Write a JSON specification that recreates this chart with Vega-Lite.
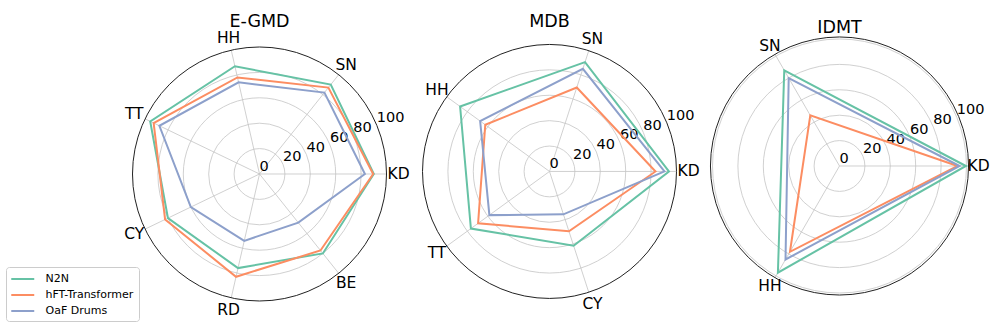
{
  "$schema": "https://vega.github.io/schema/vega-lite/v6.json",
  "autosize": {"type": "pad"},
  "padding": {"left": 5.5, "top": 0, "right": 0, "bottom": 0},
  "bounds": "flush",
  "spacing": 0,
  "config": {
    "view": {"stroke": null},
    "font": "DejaVu Sans",
    "legend": {
      "orient": "none",
      "legendX": -108.5,
      "legendY": 267,
      "title": null,
      "symbolType": "M-2,0H2",
      "symbolSize": 132,
      "symbolStrokeWidth": 2,
      "symbolOffset": 4.75,
      "labelOffset": 15.75,
      "labelFontSize": 11,
      "labelFont": "DejaVu Sans",
      "labelColor": "#000000",
      "rowPadding": 4,
      "padding": 5,
      "strokeColor": "#cccccc",
      "cornerRadius": 3,
      "fillColor": "#ffffff"
    }
  },
  "datasets": {
    "scores": [
      {"panel": "E-GMD", "model": "N2N", "inst": "KD", "k": 0, "value": 90},
      {"panel": "E-GMD", "model": "N2N", "inst": "SN", "k": 1, "value": 90},
      {"panel": "E-GMD", "model": "N2N", "inst": "HH", "k": 2, "value": 87},
      {"panel": "E-GMD", "model": "N2N", "inst": "TT", "k": 3, "value": 95.5},
      {"panel": "E-GMD", "model": "N2N", "inst": "CY", "k": 4, "value": 80},
      {"panel": "E-GMD", "model": "N2N", "inst": "RD", "k": 5, "value": 76},
      {"panel": "E-GMD", "model": "N2N", "inst": "BE", "k": 6, "value": 80},
      {"panel": "E-GMD", "model": "hFT-Transformer", "inst": "KD", "k": 0, "value": 89.5},
      {"panel": "E-GMD", "model": "hFT-Transformer", "inst": "SN", "k": 1, "value": 87},
      {"panel": "E-GMD", "model": "hFT-Transformer", "inst": "HH", "k": 2, "value": 78},
      {"panel": "E-GMD", "model": "hFT-Transformer", "inst": "TT", "k": 3, "value": 92.5},
      {"panel": "E-GMD", "model": "hFT-Transformer", "inst": "CY", "k": 4, "value": 82.5},
      {"panel": "E-GMD", "model": "hFT-Transformer", "inst": "RD", "k": 5, "value": 83},
      {"panel": "E-GMD", "model": "hFT-Transformer", "inst": "BE", "k": 6, "value": 77},
      {"panel": "E-GMD", "model": "OaF Drums", "inst": "KD", "k": 0, "value": 83},
      {"panel": "E-GMD", "model": "OaF Drums", "inst": "SN", "k": 1, "value": 82},
      {"panel": "E-GMD", "model": "OaF Drums", "inst": "HH", "k": 2, "value": 74},
      {"panel": "E-GMD", "model": "OaF Drums", "inst": "TT", "k": 3, "value": 87.5},
      {"panel": "E-GMD", "model": "OaF Drums", "inst": "CY", "k": 4, "value": 60},
      {"panel": "E-GMD", "model": "OaF Drums", "inst": "RD", "k": 5, "value": 54},
      {"panel": "E-GMD", "model": "OaF Drums", "inst": "BE", "k": 6, "value": 49},
      {"panel": "MDB", "model": "N2N", "inst": "KD", "k": 0, "value": 94},
      {"panel": "MDB", "model": "N2N", "inst": "SN", "k": 1, "value": 90.5},
      {"panel": "MDB", "model": "N2N", "inst": "HH", "k": 2, "value": 87},
      {"panel": "MDB", "model": "N2N", "inst": "TT", "k": 3, "value": 76.5},
      {"panel": "MDB", "model": "N2N", "inst": "CY", "k": 4, "value": 61.5},
      {"panel": "MDB", "model": "hFT-Transformer", "inst": "KD", "k": 0, "value": 83.5},
      {"panel": "MDB", "model": "hFT-Transformer", "inst": "SN", "k": 1, "value": 69.5},
      {"panel": "MDB", "model": "hFT-Transformer", "inst": "HH", "k": 2, "value": 62.5},
      {"panel": "MDB", "model": "hFT-Transformer", "inst": "TT", "k": 3, "value": 69.5},
      {"panel": "MDB", "model": "hFT-Transformer", "inst": "CY", "k": 4, "value": 49.5},
      {"panel": "MDB", "model": "OaF Drums", "inst": "KD", "k": 0, "value": 90.5},
      {"panel": "MDB", "model": "OaF Drums", "inst": "SN", "k": 1, "value": 85},
      {"panel": "MDB", "model": "OaF Drums", "inst": "HH", "k": 2, "value": 67.5},
      {"panel": "MDB", "model": "OaF Drums", "inst": "TT", "k": 3, "value": 58.5},
      {"panel": "MDB", "model": "OaF Drums", "inst": "CY", "k": 4, "value": 35.5},
      {"panel": "IDMT", "model": "N2N", "inst": "KD", "k": 0, "value": 99.5},
      {"panel": "IDMT", "model": "N2N", "inst": "SN", "k": 1, "value": 87},
      {"panel": "IDMT", "model": "N2N", "inst": "HH", "k": 2, "value": 97},
      {"panel": "IDMT", "model": "hFT-Transformer", "inst": "KD", "k": 0, "value": 93},
      {"panel": "IDMT", "model": "hFT-Transformer", "inst": "SN", "k": 1, "value": 46},
      {"panel": "IDMT", "model": "hFT-Transformer", "inst": "HH", "k": 2, "value": 78},
      {"panel": "IDMT", "model": "OaF Drums", "inst": "KD", "k": 0, "value": 94.5},
      {"panel": "IDMT", "model": "OaF Drums", "inst": "SN", "k": 1, "value": 80},
      {"panel": "IDMT", "model": "OaF Drums", "inst": "HH", "k": 2, "value": 85}
    ],
    "axes": [
      {"panel": "E-GMD", "inst": "KD", "k": 0},
      {"panel": "E-GMD", "inst": "SN", "k": 1},
      {"panel": "E-GMD", "inst": "HH", "k": 2},
      {"panel": "E-GMD", "inst": "TT", "k": 3},
      {"panel": "E-GMD", "inst": "CY", "k": 4},
      {"panel": "E-GMD", "inst": "RD", "k": 5},
      {"panel": "E-GMD", "inst": "BE", "k": 6},
      {"panel": "MDB", "inst": "KD", "k": 0},
      {"panel": "MDB", "inst": "SN", "k": 1},
      {"panel": "MDB", "inst": "HH", "k": 2},
      {"panel": "MDB", "inst": "TT", "k": 3},
      {"panel": "MDB", "inst": "CY", "k": 4},
      {"panel": "IDMT", "inst": "KD", "k": 0},
      {"panel": "IDMT", "inst": "SN", "k": 1},
      {"panel": "IDMT", "inst": "HH", "k": 2}
    ],
    "rticks": [
      {"r": 0, "label": "0"},
      {"r": 20, "label": "20"},
      {"r": 40, "label": "40"},
      {"r": 60, "label": "60"},
      {"r": 80, "label": "80"},
      {"r": 100, "label": "100"}
    ],
    "panels": [
      {"panel": "E-GMD", "rmax": 100},
      {"panel": "MDB", "rmax": 100},
      {"panel": "IDMT", "rmax": 101.6}
    ]
  },
  "hconcat": [
    {
      "width": 290,
      "height": 333,
      "layer": [
        {
          "data": {"name": "rticks"},
          "transform": [{"filter": "datum.r > 0 && datum.r < 100"}, {"calculate": "0", "as": "c"}],
          "mark": {"type": "arc", "filled": false, "stroke": "#c4c4c4", "strokeWidth": 0.8, "theta": 0, "theta2": 6.2832},
          "encoding": {
            "x": {"field": "c", "type": "quantitative", "scale": {"domain": [-114.17, 114.17], "nice": false, "zero": false}, "axis": null},
            "y": {"field": "c", "type": "quantitative", "scale": {"domain": [-125.2, 137.0], "nice": false, "zero": false}, "axis": null},
            "radius": {"field": "r", "type": "quantitative", "stack": null, "scale": {"type": "linear", "domain": [0, 100], "range": [0, 127], "zero": true}}
          }
        },
        {
          "data": {"name": "axes"},
          "transform": [
            {"filter": "datum.panel === 'E-GMD'"},
            {"calculate": "0", "as": "c"},
            {"calculate": "2 * PI * datum.k / 7", "as": "a"},
            {"calculate": "100 * cos(datum.a)", "as": "ex"},
            {"calculate": "100 * sin(datum.a)", "as": "ey"}
          ],
          "mark": {"type": "rule", "stroke": "#c4c4c4", "strokeWidth": 0.8},
          "encoding": {
            "x": {"field": "c", "type": "quantitative"},
            "y": {"field": "c", "type": "quantitative"},
            "x2": {"field": "ex"},
            "y2": {"field": "ey"}
          }
        },
        {
          "data": {"name": "panels"},
          "transform": [{"filter": "datum.panel === 'E-GMD'"}, {"calculate": "0", "as": "c"}],
          "mark": {"type": "arc", "filled": false, "stroke": "#222222", "strokeWidth": 1, "theta": 0, "theta2": 6.2832},
          "encoding": {
            "x": {"field": "c", "type": "quantitative"},
            "y": {"field": "c", "type": "quantitative"},
            "radius": {"field": "rmax", "type": "quantitative", "stack": null}
          }
        },
        {
          "data": {"name": "rticks"},
          "transform": [
            {"calculate": "datum.r * cos(PI / 8)", "as": "tx"},
            {"calculate": "datum.r * sin(PI / 8)", "as": "ty"}
          ],
          "mark": {"type": "text", "align": "left", "baseline": "bottom", "fontSize": 14.5, "color": "#000000"},
          "encoding": {
            "x": {"field": "tx", "type": "quantitative"},
            "y": {"field": "ty", "type": "quantitative"},
            "text": {"field": "label"}
          }
        },
        {
          "data": {"name": "scores"},
          "transform": [
            {"filter": "datum.panel === 'E-GMD'"},
            {"calculate": "2 * PI * datum.k / 7", "as": "a"},
            {"calculate": "datum.value * cos(datum.a)", "as": "px"},
            {"calculate": "datum.value * sin(datum.a)", "as": "py"}
          ],
          "mark": {"type": "line", "interpolate": "linear-closed", "strokeWidth": 2},
          "encoding": {
            "x": {"field": "px", "type": "quantitative"},
            "y": {"field": "py", "type": "quantitative"},
            "order": {"field": "k", "type": "quantitative"},
            "color": {
              "field": "model",
              "type": "nominal",
              "scale": {"domain": ["N2N", "hFT-Transformer", "OaF Drums"], "range": ["#66c2a5", "#fc8d62", "#8da0cb"]}
            }
          }
        },
        {
          "data": {"name": "axes"},
          "transform": [
            {"filter": "datum.panel === 'E-GMD'"},
            {"calculate": "2 * PI * datum.k / 7", "as": "a"},
            {"calculate": "109.5 * cos(datum.a)", "as": "lx"},
            {"calculate": "109.5 * sin(datum.a)", "as": "ly"}
          ],
          "mark": {"type": "text", "align": "center", "baseline": "middle", "fontSize": 15.5, "color": "#000000"},
          "encoding": {
            "x": {"field": "lx", "type": "quantitative"},
            "y": {"field": "ly", "type": "quantitative"},
            "text": {"field": "inst"}
          }
        },
        {
          "data": {"name": "panels"},
          "transform": [{"filter": "datum.panel === 'E-GMD'"}, {"calculate": "0", "as": "c"}, {"calculate": "115.7", "as": "ty"}],
          "mark": {"type": "text", "align": "center", "baseline": "alphabetic", "fontSize": 17.5, "color": "#000000"},
          "encoding": {
            "x": {"field": "c", "type": "quantitative"},
            "y": {"field": "ty", "type": "quantitative"},
            "text": {"field": "panel"}
          }
        }
      ]
    },
    {
      "width": 290,
      "height": 333,
      "layer": [
        {
          "data": {"name": "rticks"},
          "transform": [{"filter": "datum.r > 0 && datum.r < 100"}, {"calculate": "0", "as": "c"}],
          "mark": {"type": "arc", "filled": false, "stroke": "#c4c4c4", "strokeWidth": 0.8, "theta": 0, "theta2": 6.2832},
          "encoding": {
            "x": {"field": "c", "type": "quantitative", "scale": {"domain": [-114.17, 114.17], "nice": false, "zero": false}, "axis": null},
            "y": {"field": "c", "type": "quantitative", "scale": {"domain": [-127.2, 135.0], "nice": false, "zero": false}, "axis": null},
            "radius": {"field": "r", "type": "quantitative", "stack": null, "scale": {"type": "linear", "domain": [0, 100], "range": [0, 127], "zero": true}}
          }
        },
        {
          "data": {"name": "axes"},
          "transform": [
            {"filter": "datum.panel === 'MDB'"},
            {"calculate": "0", "as": "c"},
            {"calculate": "2 * PI * datum.k / 5", "as": "a"},
            {"calculate": "100 * cos(datum.a)", "as": "ex"},
            {"calculate": "100 * sin(datum.a)", "as": "ey"}
          ],
          "mark": {"type": "rule", "stroke": "#c4c4c4", "strokeWidth": 0.8},
          "encoding": {
            "x": {"field": "c", "type": "quantitative"},
            "y": {"field": "c", "type": "quantitative"},
            "x2": {"field": "ex"},
            "y2": {"field": "ey"}
          }
        },
        {
          "data": {"name": "panels"},
          "transform": [{"filter": "datum.panel === 'MDB'"}, {"calculate": "0", "as": "c"}],
          "mark": {"type": "arc", "filled": false, "stroke": "#222222", "strokeWidth": 1, "theta": 0, "theta2": 6.2832},
          "encoding": {
            "x": {"field": "c", "type": "quantitative"},
            "y": {"field": "c", "type": "quantitative"},
            "radius": {"field": "rmax", "type": "quantitative", "stack": null}
          }
        },
        {
          "data": {"name": "rticks"},
          "transform": [
            {"calculate": "datum.r * cos(PI / 8)", "as": "tx"},
            {"calculate": "datum.r * sin(PI / 8)", "as": "ty"}
          ],
          "mark": {"type": "text", "align": "left", "baseline": "bottom", "fontSize": 14.5, "color": "#000000"},
          "encoding": {
            "x": {"field": "tx", "type": "quantitative"},
            "y": {"field": "ty", "type": "quantitative"},
            "text": {"field": "label"}
          }
        },
        {
          "data": {"name": "scores"},
          "transform": [
            {"filter": "datum.panel === 'MDB'"},
            {"calculate": "2 * PI * datum.k / 5", "as": "a"},
            {"calculate": "datum.value * cos(datum.a)", "as": "px"},
            {"calculate": "datum.value * sin(datum.a)", "as": "py"}
          ],
          "mark": {"type": "line", "interpolate": "linear-closed", "strokeWidth": 2},
          "encoding": {
            "x": {"field": "px", "type": "quantitative"},
            "y": {"field": "py", "type": "quantitative"},
            "order": {"field": "k", "type": "quantitative"},
            "color": {"field": "model", "type": "nominal"}
          }
        },
        {
          "data": {"name": "axes"},
          "transform": [
            {"filter": "datum.panel === 'MDB'"},
            {"calculate": "2 * PI * datum.k / 5", "as": "a"},
            {"calculate": "109.5 * cos(datum.a)", "as": "lx"},
            {"calculate": "109.5 * sin(datum.a)", "as": "ly"}
          ],
          "mark": {"type": "text", "align": "center", "baseline": "middle", "fontSize": 15.5, "color": "#000000"},
          "encoding": {
            "x": {"field": "lx", "type": "quantitative"},
            "y": {"field": "ly", "type": "quantitative"},
            "text": {"field": "inst"}
          }
        },
        {
          "data": {"name": "panels"},
          "transform": [{"filter": "datum.panel === 'MDB'"}, {"calculate": "0", "as": "c"}, {"calculate": "113.8", "as": "ty"}],
          "mark": {"type": "text", "align": "center", "baseline": "alphabetic", "fontSize": 17.5, "color": "#000000"},
          "encoding": {
            "x": {"field": "c", "type": "quantitative"},
            "y": {"field": "ty", "type": "quantitative"},
            "text": {"field": "panel"}
          }
        }
      ]
    },
    {
      "width": 290,
      "height": 333,
      "layer": [
        {
          "data": {"name": "rticks"},
          "transform": [{"filter": "datum.r > 0"}, {"calculate": "0", "as": "c"}],
          "mark": {"type": "arc", "filled": false, "stroke": "#c4c4c4", "strokeWidth": 0.8, "theta": 0, "theta2": 6.2832},
          "encoding": {
            "x": {"field": "c", "type": "quantitative", "scale": {"domain": [-114.17, 114.17], "nice": false, "zero": false}, "axis": null},
            "y": {"field": "c", "type": "quantitative", "scale": {"domain": [-131.5, 130.7], "nice": false, "zero": false}, "axis": null},
            "radius": {"field": "r", "type": "quantitative", "stack": null, "scale": {"type": "linear", "domain": [0, 100], "range": [0, 127], "zero": true}}
          }
        },
        {
          "data": {"name": "axes"},
          "transform": [
            {"filter": "datum.panel === 'IDMT'"},
            {"calculate": "0", "as": "c"},
            {"calculate": "2 * PI * datum.k / 3", "as": "a"},
            {"calculate": "101.6 * cos(datum.a)", "as": "ex"},
            {"calculate": "101.6 * sin(datum.a)", "as": "ey"}
          ],
          "mark": {"type": "rule", "stroke": "#c4c4c4", "strokeWidth": 0.8},
          "encoding": {
            "x": {"field": "c", "type": "quantitative"},
            "y": {"field": "c", "type": "quantitative"},
            "x2": {"field": "ex"},
            "y2": {"field": "ey"}
          }
        },
        {
          "data": {"name": "panels"},
          "transform": [{"filter": "datum.panel === 'IDMT'"}, {"calculate": "0", "as": "c"}],
          "mark": {"type": "arc", "filled": false, "stroke": "#222222", "strokeWidth": 1, "theta": 0, "theta2": 6.2832},
          "encoding": {
            "x": {"field": "c", "type": "quantitative"},
            "y": {"field": "c", "type": "quantitative"},
            "radius": {"field": "rmax", "type": "quantitative", "stack": null}
          }
        },
        {
          "data": {"name": "rticks"},
          "transform": [
            {"calculate": "datum.r * cos(PI / 8)", "as": "tx"},
            {"calculate": "datum.r * sin(PI / 8)", "as": "ty"}
          ],
          "mark": {"type": "text", "align": "left", "baseline": "bottom", "fontSize": 14.5, "color": "#000000"},
          "encoding": {
            "x": {"field": "tx", "type": "quantitative"},
            "y": {"field": "ty", "type": "quantitative"},
            "text": {"field": "label"}
          }
        },
        {
          "data": {"name": "scores"},
          "transform": [
            {"filter": "datum.panel === 'IDMT'"},
            {"calculate": "2 * PI * datum.k / 3", "as": "a"},
            {"calculate": "datum.value * cos(datum.a)", "as": "px"},
            {"calculate": "datum.value * sin(datum.a)", "as": "py"}
          ],
          "mark": {"type": "line", "interpolate": "linear-closed", "strokeWidth": 2},
          "encoding": {
            "x": {"field": "px", "type": "quantitative"},
            "y": {"field": "py", "type": "quantitative"},
            "order": {"field": "k", "type": "quantitative"},
            "color": {"field": "model", "type": "nominal"}
          }
        },
        {
          "data": {"name": "axes"},
          "transform": [
            {"filter": "datum.panel === 'IDMT'"},
            {"calculate": "2 * PI * datum.k / 3", "as": "a"},
            {"calculate": "109.5 * cos(datum.a)", "as": "lx"},
            {"calculate": "109.5 * sin(datum.a)", "as": "ly"}
          ],
          "mark": {"type": "text", "align": "center", "baseline": "middle", "fontSize": 15.5, "color": "#000000"},
          "encoding": {
            "x": {"field": "lx", "type": "quantitative"},
            "y": {"field": "ly", "type": "quantitative"},
            "text": {"field": "inst"}
          }
        },
        {
          "data": {"name": "panels"},
          "transform": [{"filter": "datum.panel === 'IDMT'"}, {"calculate": "0", "as": "c"}, {"calculate": "104.5", "as": "ty"}],
          "mark": {"type": "text", "align": "center", "baseline": "alphabetic", "fontSize": 17.5, "color": "#000000"},
          "encoding": {
            "x": {"field": "c", "type": "quantitative"},
            "y": {"field": "ty", "type": "quantitative"},
            "text": {"field": "panel"}
          }
        }
      ]
    }
  ]
}
